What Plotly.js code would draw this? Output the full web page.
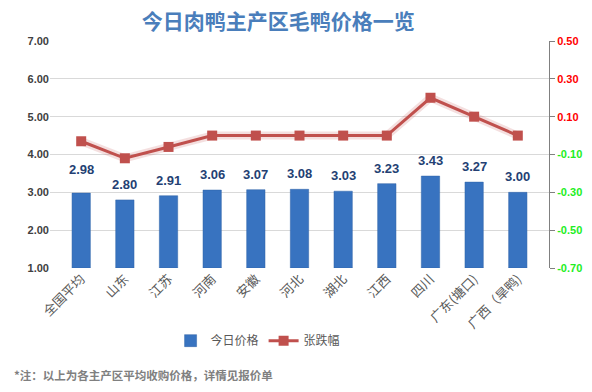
<!DOCTYPE html>
<html><head><meta charset="utf-8">
<script src="https://cdn.plot.ly/plotly-3.0.1.min.js"></script>
<style>html,body{margin:0;padding:0;background:#fff}#c{width:592px;height:392px}</style>
</head><body><div id="c"></div>
<script>
const categories = ['全国平均','山东','江苏','河南','安徽','河北','湖北','江西','四川','广东(塘口)','广西（旱鸭)'];
const prices = [2.98,2.80,2.91,3.06,3.07,3.08,3.03,3.23,3.43,3.27,3.00];
const changes = [-0.03,-0.12,-0.06,0,0,0,0,0,0.20,0.10,0];
const rightTicks = [0.50,0.30,0.10,-0.10,-0.30,-0.50,-0.70];
const leftTicks = [1,2,3,4,5,6,7];

const F = 'Liberation Sans, Noto Sans CJK SC, sans-serif';
const CJK = 'Noto Sans CJK SC, sans-serif';

const traces = [
  {type:'bar', x:categories, y:prices.map(v=>v-1), base:1, name:'今日价格',
   width:0.42, marker:{color:'#3873c0', line:{color:'#2f62a6', width:0.5}}, hoverinfo:'none'},
  {type:'scatter', mode:'lines', x:categories, y:changes, yaxis:'y2', showlegend:false,
   line:{color:'rgba(192,80,77,0.18)', width:8}, hoverinfo:'none'},
  {type:'scatter', mode:'lines+markers', x:categories, y:changes, yaxis:'y2', name:'张跌幅',
   line:{color:'#c0504d', width:3}, marker:{symbol:'square', size:10, color:'#c0504d'}, hoverinfo:'none'}
];

const labelAnn = categories.map((c,i)=>({x:c, y:prices[i], xref:'x', yref:'y', text:'<b>'+prices[i].toFixed(2)+'</b>',
  showarrow:false, yanchor:'bottom', yshift:(i===0?14:6), font:{family:F, size:13, color:'#243f73'}}));

const layout = {
  width:592, height:392,
  margin:{l:50, r:43, t:41, b:124},
  paper_bgcolor:'#fff', plot_bgcolor:'#fff',
  title:{text:'<b>今日肉鸭主产区毛鸭价格一览</b>', font:{family:CJK, size:21, color:'#4a7ebb'},
         x:0.47, xanchor:'center', y:0.944, yanchor:'middle'},
  xaxis:{type:'category', tickangle:-45, tickfont:{family:CJK, size:13, color:'#595959'},
         showline:false, ticks:'', showgrid:false},
  yaxis:{range:[1,7], tickvals:leftTicks, ticktext:leftTicks.map(v=>v.toFixed(2)),
         tickfont:{family:F, size:11, color:'#404040', weight:'bold'},
         gridcolor:'#d9d9d9', gridwidth:1, zeroline:false, showline:false, ticks:''},
  yaxis2:{overlaying:'y', side:'right', range:[-0.70,0.50], tickvals:rightTicks,
          ticktext:rightTicks.map(v=>'<span style="color:'+(v>0?'#ff0000':'#22ee22')+'">'+v.toFixed(2)+'</span>'),
          tickfont:{family:F, size:11, weight:'bold'}, showgrid:false, zeroline:false,
          showline:true, linecolor:'#808080', linewidth:1, ticks:'outside', ticklen:5, tickcolor:'#808080'},
  legend:{orientation:'h', x:0.417, xanchor:'center', y:-0.32, yanchor:'middle',
          font:{family:CJK, size:12, color:'#595959'}},
  annotations:labelAnn.concat([{text:'<b>*注：以上为各主产区平均收购价格，详情见报价单</b>', xref:'paper', yref:'paper',
    x:-0.076, y:-0.47, xanchor:'left', yanchor:'middle', showarrow:false,
    font:{family:CJK, size:11.5, color:'#808080'}}])
};
Plotly.newPlot('c', traces, layout, {displayModeBar:false, staticPlot:true});
</script></body></html>
